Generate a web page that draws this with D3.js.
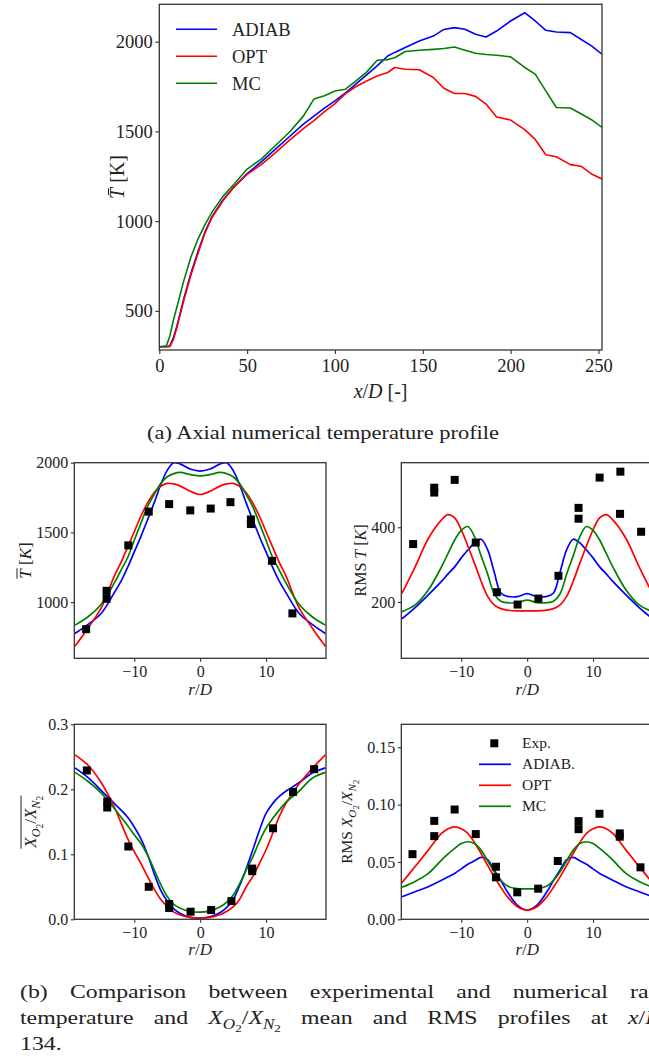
<!DOCTYPE html>
<html><head><meta charset="utf-8">
<script src="https://cdn.jsdelivr.net/npm/d3@7"></script>
<style>
body{margin:0;background:#fff}
svg{display:block}
text{font-family:"Liberation Serif","DejaVu Serif",serif;fill:#222}
</style>
</head><body>
<svg id="c" width="649" height="1059"></svg>
<script>
// ---------------- DATA ----------------
// (a) axial temperature profile
const axialX = [0,4,6,8,10,14,18,22,26,30,36,42,50,58,66,74,82,88,94,100,106,112,118,124,130,134,140,148,156,162,168,174,180,186,192,200,208,214,220,226,234,240,246,252];
const axialADIAB = [300,300,305,350,415,570,710,830,940,1025,1115,1185,1265,1330,1400,1470,1540,1585,1630,1670,1715,1765,1815,1865,1920,1940,1967,2004,2031,2068,2078,2069,2041,2026,2059,2115,2161,2115,2063,2054,2050,2013,1976,1930];
const axialOPT   = [300,300,300,340,405,560,700,820,935,1020,1110,1185,1260,1315,1380,1450,1515,1560,1610,1655,1710,1750,1781,1809,1828,1856,1846,1843,1800,1740,1711,1711,1695,1652,1580,1563,1510,1455,1370,1359,1315,1306,1263,1235];
const axialMC    = [300,305,360,448,520,670,800,900,980,1050,1135,1200,1290,1345,1420,1495,1585,1680,1698,1725,1735,1781,1830,1896,1900,1910,1945,1952,1957,1962,1970,1952,1935,1928,1924,1915,1856,1819,1726,1633,1630,1598,1565,1522];
const axialXTicks = [0,50,100,150,200,250];
const axialYTicks = [500,1000,1500,2000];
const seriesNames = ["ADIAB","OPT","MC"];
const seriesColors = ["#0000ff","#ff0000","#008000"];

// (b) radial profiles
const rGrid = [-19,-17,-15,-13,-12,-11,-10,-9,-8,-7,-6,-5,-4,-3,-1.5,0,1.5,3,4,5,6,7,8,9,10,11,12,13,15,17,19];
// mean T
const meanT_ADIAB = [775,840,920,1070,1150,1250,1360,1470,1588,1710,1840,1945,2000,1990,1955,1940,1955,1990,2000,1945,1840,1710,1588,1470,1360,1250,1150,1070,920,840,775];
const meanT_OPT   = [684,815,960,1190,1285,1395,1505,1616,1710,1785,1830,1852,1848,1832,1795,1772,1795,1832,1848,1852,1830,1785,1710,1616,1505,1395,1285,1190,960,815,684];
const meanT_MC    = [835,895,985,1140,1230,1320,1444,1565,1683,1770,1850,1899,1922,1930,1915,1906,1915,1930,1922,1899,1850,1770,1683,1565,1444,1320,1230,1140,985,895,835];
const meanT_expR  = [-17.3,-14.2,-14.2,-10.9,-7.8,-4.7,-1.5,1.6,4.6,7.7,7.7,10.9,14.0];
const meanT_exp   = [806,1081,1024,1407,1649,1703,1658,1671,1717,1593,1560,1296,919];
// RMS T
const rmsT_ADIAB = [155,185,219,255,275,294,318,339,358,368,340,280,224,215,214,222,214,215,224,280,340,368,358,339,318,294,275,255,219,185,155];
const rmsT_OPT   = [223,294,370,420,434,425,393,350,304,256,215,192,182,178,176,176,176,178,182,192,215,256,304,350,393,425,434,420,370,294,223];
const rmsT_MC    = [174,192,232,294,330,366,392,402,375,324,275,222,202,198,198,205,198,198,202,222,275,324,375,402,392,366,330,294,232,192,174];
const rmsT_expR  = [-17.3,-14.1,-14.1,-11.0,-7.8,-4.6,-1.45,1.7,4.75,7.8,7.8,11.0,14.15,14.1,17.3];
const rmsT_exp   = [355,506,493,527,359,226,193,209,270,452,423,533,549,436,388];
// mean XO2/XN2
const meanX_ADIAB = [0.233,0.218,0.198,0.178,0.168,0.157,0.142,0.124,0.100,0.071,0.045,0.028,0.016,0.009,0.003,0.002,0.004,0.010,0.018,0.030,0.052,0.078,0.107,0.137,0.163,0.178,0.189,0.197,0.210,0.225,0.233];
const meanX_OPT   = [0.253,0.237,0.210,0.172,0.148,0.124,0.104,0.086,0.066,0.047,0.031,0.020,0.011,0.0066,0.003,0.002,0.003,0.007,0.012,0.019,0.031,0.050,0.066,0.086,0.107,0.132,0.158,0.178,0.208,0.232,0.253];
const meanX_MC    = [0.226,0.212,0.194,0.170,0.157,0.144,0.130,0.117,0.099,0.077,0.054,0.035,0.023,0.017,0.012,0.011,0.013,0.019,0.026,0.037,0.055,0.076,0.096,0.120,0.140,0.155,0.168,0.180,0.197,0.217,0.226];
const meanX_expR  = [-17.2,-14.1,-14.1,-10.9,-7.8,-4.7,-4.7,-1.45,1.67,4.75,7.9,7.9,11.06,14.1,17.3];
const meanX_exp   = [0.229,0.181,0.172,0.112,0.050,0.0235,0.0174,0.0117,0.0143,0.028,0.078,0.074,0.140,0.196,0.231];
// RMS XO2/XN2
const rmsX_ADIAB = [0.0197,0.024,0.0284,0.034,0.037,0.040,0.044,0.048,0.051,0.054,0.052,0.043,0.034,0.024,0.0124,0.0081,0.0124,0.024,0.034,0.043,0.052,0.054,0.051,0.048,0.044,0.040,0.037,0.034,0.0284,0.024,0.0197];
const rmsX_OPT   = [0.0319,0.046,0.0603,0.0749,0.079,0.0806,0.079,0.075,0.067,0.0575,0.047,0.037,0.028,0.0197,0.011,0.0081,0.011,0.0197,0.028,0.037,0.047,0.0575,0.067,0.075,0.079,0.0806,0.079,0.0749,0.0603,0.046,0.0319];
const rmsX_MC    = [0.0279,0.033,0.040,0.0516,0.057,0.0618,0.066,0.0676,0.066,0.0603,0.051,0.0415,0.034,0.029,0.0267,0.0266,0.0267,0.029,0.034,0.0415,0.051,0.0603,0.066,0.0676,0.066,0.0618,0.057,0.0516,0.040,0.033,0.0279];
const rmsX_expR  = [-17.4,-14.1,-14.1,-11.0,-7.8,-4.74,-4.74,-1.5,1.67,4.65,7.8,7.8,10.97,14.05,14.05,17.2];
const rmsX_exp   = [0.0568,0.0858,0.0725,0.0957,0.0743,0.0458,0.0366,0.0235,0.0267,0.0508,0.0856,0.0786,0.092,0.0749,0.072,0.0453];
const rTicks = [-10,0,10];
const legendB = ["Exp.","ADIAB.","OPT","MC"];

// ---------------- DRAWING ----------------
const svg = d3.select("#c");
svg.append("rect").attr("width",649).attr("height",1059).attr("fill","#fff");
const FRAME = "#333";
let clipId = 0;

function rich(textSel, parts, fs) {
  const shift = [0, 0.24*fs, 0.42*fs];
  const size = [fs, 0.72*fs, 0.55*fs];
  let prev = 0;
  parts.forEach(p => {
    const lv = p.sub || 0;
    textSel.append("tspan").text(p.t)
      .attr("font-style", p.it ? "italic" : "normal")
      .attr("font-size", size[lv])
      .attr("dy", shift[lv] - shift[prev]);
    prev = lv;
  });
  return textSel;
}

function panel(o) {
  const x = d3.scaleLinear().domain(o.xDomain).range([o.x0, o.x1]);
  const y = d3.scaleLinear().domain(o.yDomain).range([o.y1, o.y0]);
  const g = svg.append("g");
  const id = "clip" + (clipId++);
  svg.append("defs").append("clipPath").attr("id", id)
    .append("rect").attr("x", o.x0).attr("y", o.y0).attr("width", o.x1 - o.x0).attr("height", o.y1 - o.y0);
  const ax = g.append("g").attr("transform", `translate(0,${o.y1})`)
    .call(d3.axisBottom(x).tickValues(o.xTicks).tickFormat(o.xFmt || d3.format("d"))
      .tickSize(o.tick).tickSizeOuter(0).tickPadding(o.xPad));
  const ay = g.append("g").attr("transform", `translate(${o.x0},0)`)
    .call(d3.axisLeft(y).tickValues(o.yTicks).tickFormat(o.yFmt || d3.format("d"))
      .tickSize(o.tick).tickSizeOuter(0).tickPadding(o.yPad));
  [ax, ay].forEach(a => {
    a.select(".domain").remove();
    a.selectAll(".tick line").attr("stroke", FRAME).attr("stroke-width", 1.1);
    a.selectAll(".tick text").attr("font-family", '"Liberation Serif",serif')
      .attr("font-size", o.tickFs).attr("fill", "#222");
  });
  const plot = g.append("g").attr("clip-path", `url(#${id})`);
  const line = d3.line().x(d => x(d[0])).y(d => y(d[1]))
    .curve(o.smooth ? d3.curveCatmullRom.alpha(0.5) : d3.curveLinear);
  o.series.forEach((s, i) => {
    plot.append("path").datum(o.xs.map((v, k) => [v, s[k]]))
      .attr("d", line).attr("fill", "none")
      .attr("stroke", seriesColors[i]).attr("stroke-width", o.lw)
      .attr("stroke-linejoin", "round");
  });
  if (o.expR) {
    const ms = 8;
    plot.selectAll("rect.exp").data(o.expR.map((r, k) => [r, o.expV[k]])).enter()
      .append("rect").attr("class", "exp")
      .attr("x", d => x(d[0]) - ms/2).attr("y", d => y(d[1]) - ms/2)
      .attr("width", ms).attr("height", ms).attr("fill", "#000");
  }
  g.append("rect").attr("x", o.x0).attr("y", o.y0)
    .attr("width", o.x1 - o.x0).attr("height", o.y1 - o.y0)
    .attr("fill", "none").attr("stroke", FRAME).attr("stroke-width", 1.3);
  return {x, y, g};
}

// ---- (a) axial ----
const A = panel({
  x0: 159.3, x1: 602, y0: 4.3, y1: 350,
  xDomain: [0, 252], yDomain: [282, 2208],
  xTicks: axialXTicks, yTicks: axialYTicks,
  tick: 4, xPad: 5, yPad: 2.5, tickFs: 18.5, lw: 1.6,
  xs: axialX, series: [axialADIAB, axialOPT, axialMC], smooth: false
});
seriesNames.forEach((n, i) => {
  const yy = 29.3 + i * 27;
  svg.append("line").attr("x1", 176).attr("x2", 217).attr("y1", yy).attr("y2", yy)
    .attr("stroke", seriesColors[i]).attr("stroke-width", 1.6);
  svg.append("text").attr("x", 232).attr("y", yy + 6.5).attr("font-size", 18.5).text(n);
});
{
  const t = svg.append("text").attr("x", 380.6).attr("y", 398).attr("text-anchor", "middle");
  rich(t, [{t:"x", it:true}, {t:"/"}, {t:"D", it:true}, {t:" [-]"}], 20);
  const gl = svg.append("g").attr("transform", "translate(124,177) rotate(-90)");
  const ty = gl.append("text").attr("text-anchor", "middle");
  rich(ty, [{t:"T", it:true}, {t:" [K]"}], 20);
  const e = ty.node().getExtentOfChar(0);
  gl.append("line").attr("x1", e.x + e.width*0.35).attr("x2", e.x + e.width*0.95)
    .attr("y1", -15.5).attr("y2", -15.5).attr("stroke", "#222").attr("stroke-width", 1);
}
svg.append("text").attr("x", 147).attr("y", 439).attr("font-size", 19)
  .attr("textLength", 352).attr("lengthAdjust", "spacingAndGlyphs")
  .text("(a)  Axial numerical temperature profile");

// ---- (b) radial panels ----
const common = {tick: 3.5, xPad: 3.5, yPad: 2.5, tickFs: 16, lw: 1.7, xs: rGrid, smooth: true,
  xDomain: [-19.1, 19.1], xTicks: rTicks};
const TL = panel(Object.assign({}, common, {
  x0: 74.3, x1: 326, y0: 462.7, y1: 658.3, yDomain: [597, 2000], yTicks: [1000,1500,2000],
  series: [meanT_ADIAB, meanT_OPT, meanT_MC], expR: meanT_expR, expV: meanT_exp}));
const TR = panel(Object.assign({}, common, {
  x0: 401.3, x1: 653, y0: 462.7, y1: 658.3, yDomain: [49, 573], yTicks: [200,400],
  series: [rmsT_ADIAB, rmsT_OPT, rmsT_MC], expR: rmsT_expR, expV: rmsT_exp}));
const BL = panel(Object.assign({}, common, {
  x0: 74.3, x1: 326, y0: 724.3, y1: 919.3, yDomain: [0, 0.3], yTicks: [0,0.1,0.2,0.3],
  yFmt: d3.format(".1f"),
  series: [meanX_ADIAB, meanX_OPT, meanX_MC], expR: meanX_expR, expV: meanX_exp}));
const BR = panel(Object.assign({}, common, {
  x0: 401.3, x1: 653, y0: 724.3, y1: 919.3, yDomain: [0, 0.17], yTicks: [0,0.05,0.10,0.15],
  yFmt: d3.format(".2f"),
  series: [rmsX_ADIAB, rmsX_OPT, rmsX_MC], expR: rmsX_expR, expV: rmsX_exp}));

[[200.15, 695], [527.2, 695], [200.15, 955], [527.2, 955]].forEach(([cx, cy]) => {
  const t = svg.append("text").attr("x", cx).attr("y", cy).attr("text-anchor", "middle");
  rich(t, [{t:"r", it:true}, {t:"/"}, {t:"D", it:true}], 17);
});
{
  const g1 = svg.append("g").attr("transform", "translate(31,560.5) rotate(-90)");
  const t1 = g1.append("text").attr("text-anchor", "middle");
  rich(t1, [{t:"T", it:true}, {t:" ["}, {t:"K", it:true}, {t:"]"}], 17);
  const e = t1.node().getExtentOfChar(0);
  g1.append("line").attr("x1", e.x).attr("x2", e.x + e.width + 1)
    .attr("y1", -14).attr("y2", -14).attr("stroke", "#222").attr("stroke-width", 1);

  const g2 = svg.append("g").attr("transform", "translate(366,560.5) rotate(-90)");
  const t2 = g2.append("text").attr("text-anchor", "middle");
  rich(t2, [{t:"RMS "}, {t:"T", it:true}, {t:" ["}, {t:"K", it:true}, {t:"]"}], 16);

  const g3 = svg.append("g").attr("transform", "translate(36,821.8) rotate(-90)");
  const t3 = g3.append("text").attr("text-anchor", "middle");
  rich(t3, [{t:"X", it:true}, {t:"O", it:true, sub:1}, {t:"2", sub:2}, {t:"/"},
            {t:"X", it:true}, {t:"N", it:true, sub:1}, {t:"2", sub:2}], 17);
  const b = t3.node().getBBox();
  g3.append("line").attr("x1", b.x).attr("x2", b.x + b.width)
    .attr("y1", -15).attr("y2", -15).attr("stroke", "#222").attr("stroke-width", 1);

  const g4 = svg.append("g").attr("transform", "translate(352,821.8) rotate(-90)");
  const t4 = g4.append("text").attr("text-anchor", "middle");
  rich(t4, [{t:"RMS "}, {t:"X", it:true}, {t:"O", it:true, sub:1}, {t:"2", sub:2}, {t:"/"},
            {t:"X", it:true}, {t:"N", it:true, sub:1}, {t:"2", sub:2}], 15.5);
}
{
  const rows = [743.3, 764.3, 785.3, 806.3];
  svg.append("rect").attr("x", 494.3 - 4).attr("y", rows[0] - 4).attr("width", 8).attr("height", 8).attr("fill", "#000");
  for (let i = 0; i < 3; i++) {
    svg.append("line").attr("x1", 479).attr("x2", 511).attr("y1", rows[i+1]).attr("y2", rows[i+1])
      .attr("stroke", seriesColors[i]).attr("stroke-width", 1.7);
  }
  legendB.forEach((n, i) => svg.append("text").attr("x", 522).attr("y", rows[i] + 5)
    .attr("font-size", 15.5).text(n));
}

// caption (b): justified lines, glyphs widened like Computer Modern
function justLine(words, yBase, xStart, lastStart, fs, stretch) {
  const els = words.map(w => {
    const t = svg.append("text").attr("y", yBase).attr("font-size", fs);
    if (typeof w === "string") t.text(w); else rich(t, w, fs);
    return t;
  });
  const widths = els.map(t => {
    const w = t.node().getComputedTextLength() * stretch;
    t.attr("textLength", w).attr("lengthAdjust", "spacingAndGlyphs");
    return w;
  });
  const n = els.length;
  let gap = 6;
  if (lastStart != null && n > 1) {
    const sumW = d3.sum(widths.slice(0, n - 1));
    gap = (lastStart - xStart - sumW) / (n - 1);
  }
  let xx = xStart;
  els.forEach((t, i) => { t.attr("x", xx); xx += widths[i] + gap; });
}
const capFs = 19.5, capStretch = 1.22;
justLine(["(b)", "Comparison", "between", "experimental", "and", "numerical", "radial"], 998, 20, 630, capFs, capStretch);
justLine(["temperature", "and",
  [{t:"X", it:true}, {t:"O", it:true, sub:1}, {t:"2", sub:2}, {t:"/"}, {t:"X", it:true}, {t:"N", it:true, sub:1}, {t:"2", sub:2}],
  "mean", "and", "RMS", "profiles", "at", [{t:"x", it:true}, {t:"/"}, {t:"D", it:true}, {t:" ="}]], 1024, 20, 628, capFs, capStretch);
justLine(["134."], 1050, 20, null, capFs, capStretch);
</script>
</body></html>
